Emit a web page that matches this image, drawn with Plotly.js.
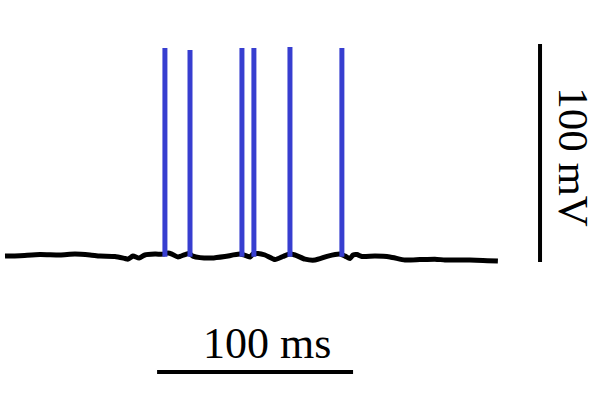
<!DOCTYPE html>
<html>
<head>
<meta charset="utf-8">
<script src="https://cdn.plot.ly/plotly-3.0.1.min.js"></script>
<style>html,body{margin:0;padding:0;background:#fff;}#chart{width:600px;height:417px;}</style>
</head>
<body>
<div id="chart"></div>
<script>
// Membrane potential trace (time in ms, voltage in mV)
const traceTime = [0, 7.7, 17.9, 28.1, 35.7, 43.4, 48.5, 56.1, 61.2, 62.8, 65.3, 68.4, 71.4, 76.5, 80.6,
  83.2, 85.2, 88.3, 91.8, 93.9, 95.9, 99.5, 105.6, 112.2, 119.9, 123.5, 125.0, 126.5, 129.1, 132.7,
  137.8, 141.8, 144.9, 148.0, 153.1, 158.2, 164.8, 170.9, 173.5, 176.0, 177.6, 179.6, 182.1, 188.8,
  196.4, 204.1, 211.7, 219.4, 224.5, 229.6, 237.2, 251.5];
const traceVolt = [-64.1, -63.9, -63.4, -63.6, -63.2, -63.6, -64.1, -64.3, -65.2, -65.5, -64.1, -65.0, -63.6, -63.2, -63.2,
  -62.7, -63.2, -64.5, -63.4, -62.9, -64.1, -64.8, -65.0, -64.3, -63.2, -64.1, -64.5, -63.2, -62.9, -63.6,
  -65.7, -64.3, -63.2, -63.6, -65.5, -65.9, -64.1, -63.2, -64.1, -65.2, -63.6, -63.4, -64.3, -64.1,
  -64.5, -65.9, -65.7, -65.5, -65.9, -65.9, -65.9, -66.4];

// Spikes
const spikeTimes = [81.6, 94.4, 120.9, 127.0, 145.4, 171.9];
const spikePeaks = [31.3, 30.4, 31.3, 31.3, 31.8, 31.3];
const spikeBase = [-64.4, -64.4, -64.4, -64.4, -64.4, -64.4];

// Scale bars
const timeBarX = [77.6, 177.6];
const timeBarY = [-117.3, -117.3];
const voltBarX = [273, 273];
const voltBarY = [-66.8, 33.2];
const timeLabel = "100 ms";
const voltLabel = "100 mV";

const sx = [], sy = [];
spikeTimes.forEach((t, i) => { sx.push(t, t, null); sy.push(spikeBase[i], spikePeaks[i], null); });

const data = [
  {x: traceTime, y: traceVolt, mode: 'lines', line: {color: '#000', width: 5, shape: 'spline', smoothing: 0.6}, hoverinfo: 'skip'},
  {x: sx, y: sy, mode: 'lines', line: {color: 'rgb(55,62,208)', width: 5}, connectgaps: false, hoverinfo: 'skip'},
  {x: timeBarX, y: timeBarY, mode: 'lines', line: {color: '#000', width: 4}, hoverinfo: 'skip'},
  {x: voltBarX, y: voltBarY, mode: 'lines', line: {color: '#000', width: 4}, hoverinfo: 'skip'}
];

const fontFamily = '"Liberation Serif", "DejaVu Serif", serif';
const layout = {
  width: 600, height: 417,
  margin: {l: 0, r: 0, t: 0, b: 0},
  paper_bgcolor: '#fff', plot_bgcolor: '#fff',
  showlegend: false,
  xaxis: {range: [-2.55, 303.6], visible: false, fixedrange: true},
  yaxis: {range: [-137.9, 53.35], visible: false, fixedrange: true},
  annotations: [
    {x: 133.7, y: -104.0, xref: 'x', yref: 'y', text: timeLabel, showarrow: false,
     font: {family: fontFamily, size: 44, color: '#000'}},
    {x: 290.3, y: -18.7, xref: 'x', yref: 'y', text: voltLabel, showarrow: false, textangle: 90,
     font: {family: fontFamily, size: 43, color: '#000'}}
  ]
};
Plotly.newPlot('chart', data, layout, {staticPlot: true, displayModeBar: false});
</script>
</body>
</html>
